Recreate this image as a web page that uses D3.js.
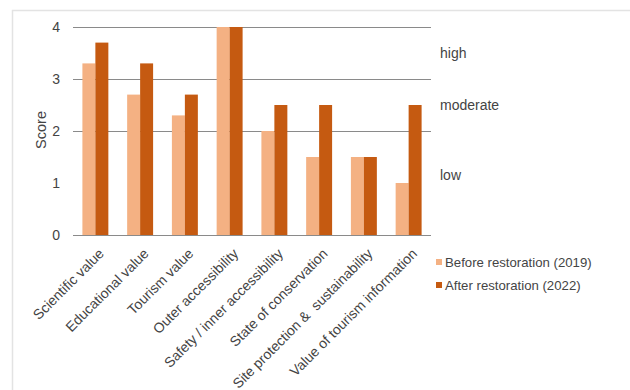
<!DOCTYPE html>
<html>
<head>
<meta charset="utf-8">
<script src="https://cdn.jsdelivr.net/npm/d3@7"></script>
<style>
  html, body { margin: 0; padding: 0; background: #fff; }
  svg { display: block; font-family: "Liberation Sans", Arial, Helvetica, sans-serif; }
  text { white-space: pre; }
</style>
</head>
<body>
<svg id="chart" width="630" height="390"></svg>
<script>
// Geosite assessment scores, before and after restoration
const categories = [
  "Scientific value",
  "Educational value",
  "Tourism value",
  "Outer accessibility",
  "Safety / inner accessibility",
  "State of conservation",
  "Site protection &  sustainability",
  "Value of tourism information"
];
const before2019 = [3.3, 2.7, 2.3, 4, 2, 1.5, 1.5, 1];
const after2022 = [3.7, 3.3, 2.7, 4, 2.5, 2.5, 1.5, 2.5];
const seriesNames = ["Before restoration (2019)", "After restoration (2022)"];
const yTicks = [0, 1, 2, 3, 4];
const levelBreaks = [0, 2, 3, 4];
const levelLabels = ["high", "moderate", "low"];
const levelLabelValues = [3.5, 2.5, 1.15];

const colors = ["#F4B183", "#C55A11"];
const textColor = "#444";

const svg = d3.select("#chart");

// outer frame (top and left edges)
svg.append("path")
  .attr("d", "M12.5,390 L12.5,10.5 L630,10.5")
  .attr("fill", "none")
  .attr("stroke", "#e3e3e3")
  .attr("stroke-width", 1.5);

const plotLeft = 73, plotRight = 431, plotTop = 27, plotBottom = 235;

const x0 = d3.scaleBand().domain(categories).range([plotLeft, plotRight])
  .paddingInner(0.42).paddingOuter(0.21);
const x1 = d3.scaleBand().domain([0, 1]).range([0, x0.bandwidth()]);
const y = d3.scaleLinear().domain([0, 4]).range([plotBottom, plotTop]);

// level separators
svg.append("g").selectAll("line")
  .data(levelBreaks)
  .join("line")
  .attr("x1", plotLeft).attr("x2", plotRight)
  .attr("y1", d => y(d) + 0.5).attr("y2", d => y(d) + 0.5)
  .attr("stroke", "#8a8a8a")
  .attr("stroke-width", 1);

// bars
const groups = svg.append("g").selectAll("g")
  .data(categories)
  .join("g")
  .attr("transform", d => `translate(${x0(d)},0)`);

groups.selectAll("rect")
  .data((d, i) => [before2019[i], after2022[i]])
  .join("rect")
  .attr("x", (d, j) => x1(j))
  .attr("width", x1.bandwidth())
  .attr("y", d => y(d))
  .attr("height", d => y(0) - y(d))
  .attr("fill", (d, j) => colors[j]);

// y axis
const yAxis = svg.append("g")
  .attr("transform", `translate(${plotLeft},0)`)
  .call(d3.axisLeft(y).tickValues(yTicks).tickFormat(d3.format("d")).tickSize(0).tickPadding(13));
yAxis.select(".domain").remove();
yAxis.selectAll("text")
  .attr("font-size", 14)
  .attr("font-family", "Liberation Sans, Arial, sans-serif")
  .attr("fill", textColor);

svg.append("text")
  .attr("transform", `translate(46,${(plotTop + plotBottom) / 2 - 1}) rotate(-90)`)
  .attr("text-anchor", "middle")
  .attr("font-size", 14.5)
  .attr("fill", textColor)
  .text("Score");

// x axis labels, rotated
const xAxis = svg.append("g")
  .attr("transform", `translate(0,${plotBottom})`)
  .call(d3.axisBottom(x0).tickSize(0).tickPadding(0));
xAxis.select(".domain").remove();
xAxis.selectAll("text")
  .attr("font-size", 14)
  .attr("font-family", "Liberation Sans, Arial, sans-serif")
  .attr("fill", textColor)
  .attr("text-anchor", "end")
  .attr("y", 0)
  .attr("dy", 0)
  .attr("transform", "translate(9.5,19.5) rotate(-45)");

// level labels
svg.append("g").selectAll("text")
  .data(levelLabels)
  .join("text")
  .attr("x", 440)
  .attr("y", (d, i) => y(levelLabelValues[i]))
  .attr("dy", "0.35em")
  .attr("font-size", 14)
  .attr("fill", textColor)
  .text(d => d);

// legend
const legend = svg.append("g").selectAll("g")
  .data(seriesNames)
  .join("g")
  .attr("transform", (d, i) => `translate(436,${259 + i * 23})`);
legend.append("rect")
  .attr("width", 6).attr("height", 6)
  .attr("fill", (d, i) => colors[i]);
legend.append("text")
  .attr("x", 9)
  .attr("y", 7.5)
  .attr("font-size", 13.2)
  .attr("fill", textColor)
  .text(d => d);
</script>
</body>
</html>
